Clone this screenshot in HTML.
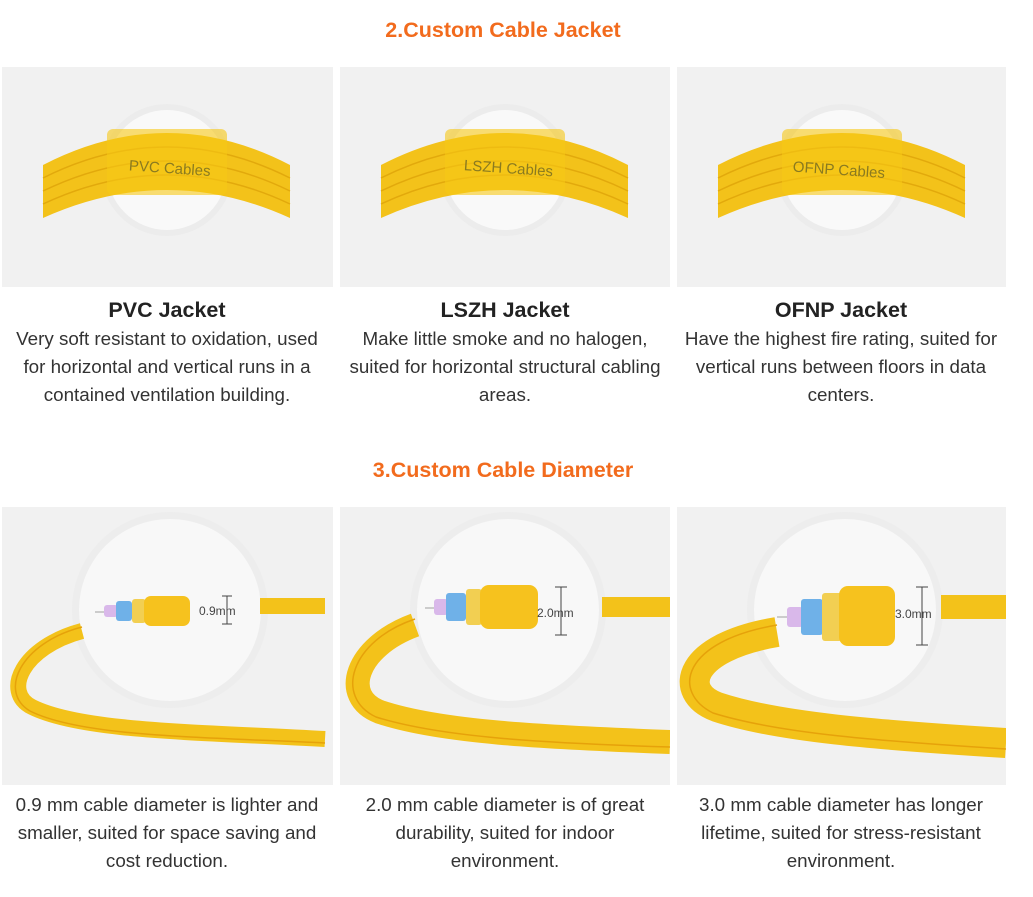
<!DOCTYPE html>
<html><head><meta charset="utf-8"><style>
body{margin:0;width:1033px;height:897px;background:#fff;font-family:"Liberation Sans",Arial,sans-serif;position:relative;overflow:hidden}
.h{position:absolute;left:0;width:1006px;text-align:center;color:#f26b1d;font-weight:bold;font-size:21.5px}
.p{position:absolute;background:#f1f1f1;overflow:hidden}
.t{position:absolute;width:318px;text-align:center;color:#333;font-size:18.8px;line-height:28px}
.t b{display:block;font-size:21.5px;color:#222;line-height:28px;margin-bottom:1px}
</style></head><body>
<div class="h" style="top:18px">2.Custom Cable Jacket</div>

<svg width="0" height="0" style="position:absolute"><defs>
<g id="arc">
<circle cx="165" cy="103" r="66" fill="#e9e9e9" opacity=".6"/>
<circle cx="165" cy="103" r="60" fill="#f9f9f9"/>
<path d="M41,98 Q165,34 288,98 L288,151 Q165,95 41,151 Z" fill="#f3c21a"/>
<path d="M41,111 Q165,49 288,111" fill="none" stroke="#e2a90c" stroke-width="1.5"/>
<path d="M41,124 Q165,64 288,124" fill="none" stroke="#e2a90c" stroke-width="1.5"/>
<path d="M41,137 Q165,79 288,137" fill="none" stroke="#e2a90c" stroke-width="1.5"/>
<rect x="105" y="62" width="120" height="66" rx="6" fill="#f7c816" opacity=".6"/>
</g>
<g id="cut">
<circle cx="168" cy="103" r="98" fill="#e9e9e9" opacity=".5"/>
<circle cx="168" cy="103" r="91" fill="#f8f8f8"/>
</g>
</defs></svg>

<div class="p" style="left:2px;top:67px;width:331px;height:220px"><svg width="331" height="220"><use href="#arc"/><text x="127" y="106" font-size="15" fill="#8a7a20" transform="rotate(4 165 100)">PVC Cables</text></svg></div>
<div class="p" style="left:340px;top:67px;width:330px;height:220px"><svg width="330" height="220"><use href="#arc"/><text x="124" y="106" font-size="15" fill="#8a7a20" transform="rotate(4 165 100)">LSZH Cables</text></svg></div>
<div class="p" style="left:677px;top:67px;width:329px;height:220px"><svg width="329" height="220"><use href="#arc"/><text x="116" y="108" font-size="15" fill="#8a7a20" transform="rotate(4 165 100)">OFNP Cables</text></svg></div>

<div class="t" style="left:8px;top:296px"><b>PVC Jacket</b>Very soft resistant to oxidation, used for horizontal and vertical runs in a contained ventilation building.</div>
<div class="t" style="left:346px;top:296px"><b>LSZH Jacket</b>Make little smoke and no halogen, suited for horizontal structural cabling areas.</div>
<div class="t" style="left:682px;top:296px"><b>OFNP Jacket</b>Have the highest fire rating, suited for vertical runs between floors in data centers.</div>

<div class="h" style="top:458px">3.Custom Cable Diameter</div>

<div class="p" style="left:2px;top:507px;width:331px;height:278px"><svg width="331" height="278">
<use href="#cut"/>
<path d="M258,99 L323,99" stroke="#f3c21a" stroke-width="16" fill="none"/>
<path d="M80,124 C20,140 0,185 30,200 C80,225 200,225 323,232" stroke="#f3c21a" stroke-width="16" fill="none"/>
<path d="M80,120 C18,136 -4,185 28,204 C80,230 200,230 323,236" stroke="#e6a20a" stroke-width="1.5" fill="none"/>
<rect x="93" y="104" width="16" height="2" fill="#ccc"/>
<rect x="102" y="98" width="14" height="12" rx="3" fill="#d9b8ea"/>
<rect x="114" y="94" width="16" height="20" rx="3" fill="#6fb1e8"/>
<rect x="130" y="92" width="14" height="24" rx="3" fill="#f2cf52"/>
<rect x="142" y="89" width="46" height="30" rx="7" fill="#f6c21e"/>
<text x="197" y="108" font-size="12" fill="#444">0.9mm</text>
<path d="M220,89h10M225,89v28M220,117h10" stroke="#444" fill="none"/>
</svg></div>

<div class="p" style="left:340px;top:507px;width:330px;height:278px"><svg width="330" height="278">
<use href="#cut"/>
<path d="M262,100 L330,100" stroke="#f3c21a" stroke-width="20" fill="none"/>
<path d="M75,118 C15,140 0,190 40,205 C100,225 200,230 330,235" stroke="#f3c21a" stroke-width="24" fill="none"/>
<path d="M75,112 C10,134 -6,190 36,210 C100,230 200,236 330,240" stroke="#e6a20a" stroke-width="1.5" fill="none"/>
<rect x="85" y="100" width="16" height="2" fill="#ccc"/>
<rect x="94" y="92" width="14" height="16" rx="3" fill="#d9b8ea"/>
<rect x="106" y="86" width="20" height="28" rx="3" fill="#6fb1e8"/>
<rect x="126" y="82" width="16" height="36" rx="3" fill="#f2cf52"/>
<rect x="140" y="78" width="58" height="44" rx="9" fill="#f6c21e"/>
<text x="197" y="110" font-size="12" fill="#444">2.0mm</text>
<path d="M215,80h12M221,80v48M215,128h12" stroke="#444" fill="none"/>
</svg></div>

<div class="p" style="left:677px;top:507px;width:329px;height:278px"><svg width="329" height="278">
<use href="#cut"/>
<path d="M264,100 L329,100" stroke="#f3c21a" stroke-width="24" fill="none"/>
<path d="M100,125 C10,140 0,185 40,200 C100,220 200,228 329,236" stroke="#f3c21a" stroke-width="30" fill="none"/>
<path d="M100,118 C5,134 -6,185 36,206 C100,226 200,234 329,242" stroke="#e6a20a" stroke-width="1.5" fill="none"/>
<rect x="100" y="109" width="16" height="2" fill="#ccc"/>
<rect x="110" y="100" width="16" height="20" rx="3" fill="#d9b8ea"/>
<rect x="124" y="92" width="22" height="36" rx="3" fill="#6fb1e8"/>
<rect x="145" y="86" width="20" height="48" rx="3" fill="#f2cf52"/>
<rect x="162" y="79" width="56" height="60" rx="9" fill="#f6c21e"/>
<text x="218" y="111" font-size="12" fill="#444">3.0mm</text>
<path d="M239,80h12M245,80v58M239,138h12" stroke="#444" fill="none"/>
</svg></div>

<div class="t" style="left:8px;top:791px">0.9 mm cable diameter is lighter and smaller, suited for space saving and cost reduction.</div>
<div class="t" style="left:346px;top:791px">2.0 mm cable diameter is of great durability, suited for indoor environment.</div>
<div class="t" style="left:682px;top:791px">3.0 mm cable diameter has longer lifetime, suited for stress-resistant environment.</div>
</body></html>
